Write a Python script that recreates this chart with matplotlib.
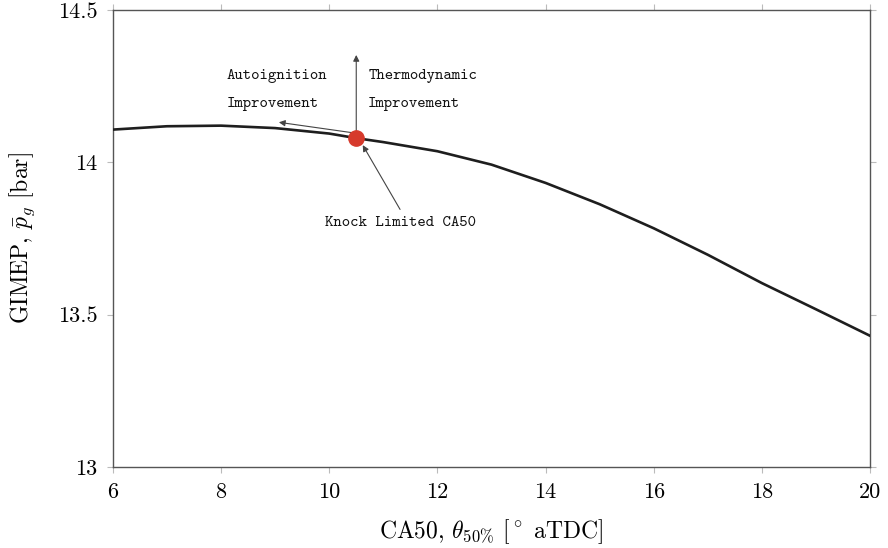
import matplotlib
matplotlib.use("Agg")
from matplotlib import pyplot as plt

# GIMEP vs CA50
ca50 = [6, 7, 8, 9, 10, 10.5, 11, 12, 13, 14, 15, 16, 17, 18, 19, 20]
gimep = [14.107, 14.118, 14.120, 14.112, 14.094, 14.079, 14.066, 14.036,
         13.992, 13.932, 13.862, 13.783, 13.696, 13.603, 13.517, 13.430]

knock_ca50 = 10.5
knock_gimep = 14.079

xticks = [6, 8, 10, 12, 14, 16, 18, 20]
yticks = [13, 13.5, 14, 14.5]
ytick_labels = ["13", "13.5", "14", "14.5"]

plt.rcParams["font.family"] = "serif"
plt.rcParams["font.serif"] = ["cmr10", "DejaVu Serif"]
plt.rcParams["mathtext.fontset"] = "cm"
plt.rcParams["axes.unicode_minus"] = False

fig = plt.figure(figsize=(8.88, 5.48), dpi=100)
ax = fig.add_axes([0.127, 0.148, 0.853, 0.834])

ax.plot(ca50, gimep, color="#1e1e1e", lw=1.9, zorder=3)
ax.plot([knock_ca50], [knock_gimep], "o", color="#d63a2c", ms=11, zorder=5)

arrow = dict(arrowstyle="-|>", color="#444444", lw=0.8, mutation_scale=9,
             shrinkA=0, shrinkB=0)
# thermodynamic improvement (up)
ax.annotate("", xy=(10.5, 14.352), xytext=(10.5, 14.09), arrowprops=arrow, zorder=4)
# autoignition improvement (left)
ax.annotate("", xy=(9.07, 14.131), xytext=(10.42, 14.097), arrowprops=arrow, zorder=4)
# knock limited label
ax.annotate("", xy=(10.62, 14.056), xytext=(11.31, 13.845), arrowprops=arrow, zorder=4)

tt = dict(family="cmtt10", fontsize=11.5, color="#111111")
ax.text(8.1, 14.282, "Autoignition", va="center", ha="left", **tt)
ax.text(8.1, 14.190, "Improvement", va="center", ha="left", **tt)
ax.text(10.72, 14.282, "Thermodynamic", va="center", ha="left", **tt)
ax.text(10.72, 14.190, "Improvement", va="center", ha="left", **tt)
ax.text(11.31, 13.80, "Knock Limited CA50", va="center", ha="center", **tt)

ax.set_xlim(6, 20)
ax.set_ylim(13, 14.5)
ax.set_xticks(xticks)
ax.set_xticklabels([str(t) for t in xticks])
ax.set_yticks(yticks)
ax.set_yticklabels(ytick_labels)

ax.tick_params(direction="out", length=4, width=0.8, color="#bbbbbb",
               labelsize=16, top=True, right=True, pad=7)
for s in ax.spines.values():
    s.set_color("#555555")
    s.set_linewidth(1.0)

ax.set_xlabel(r"CA50, $\theta_{50\%}$ [$^\circ$ aTDC]", fontsize=17, va="center")
ax.set_ylabel(r"GIMEP, $\bar{p}_g$ [bar]", fontsize=17)
ax.xaxis.set_label_coords(0.5, -0.142)
ax.yaxis.set_label_coords(-0.1, 0.5)

fig.savefig("out.png", dpi=100)
